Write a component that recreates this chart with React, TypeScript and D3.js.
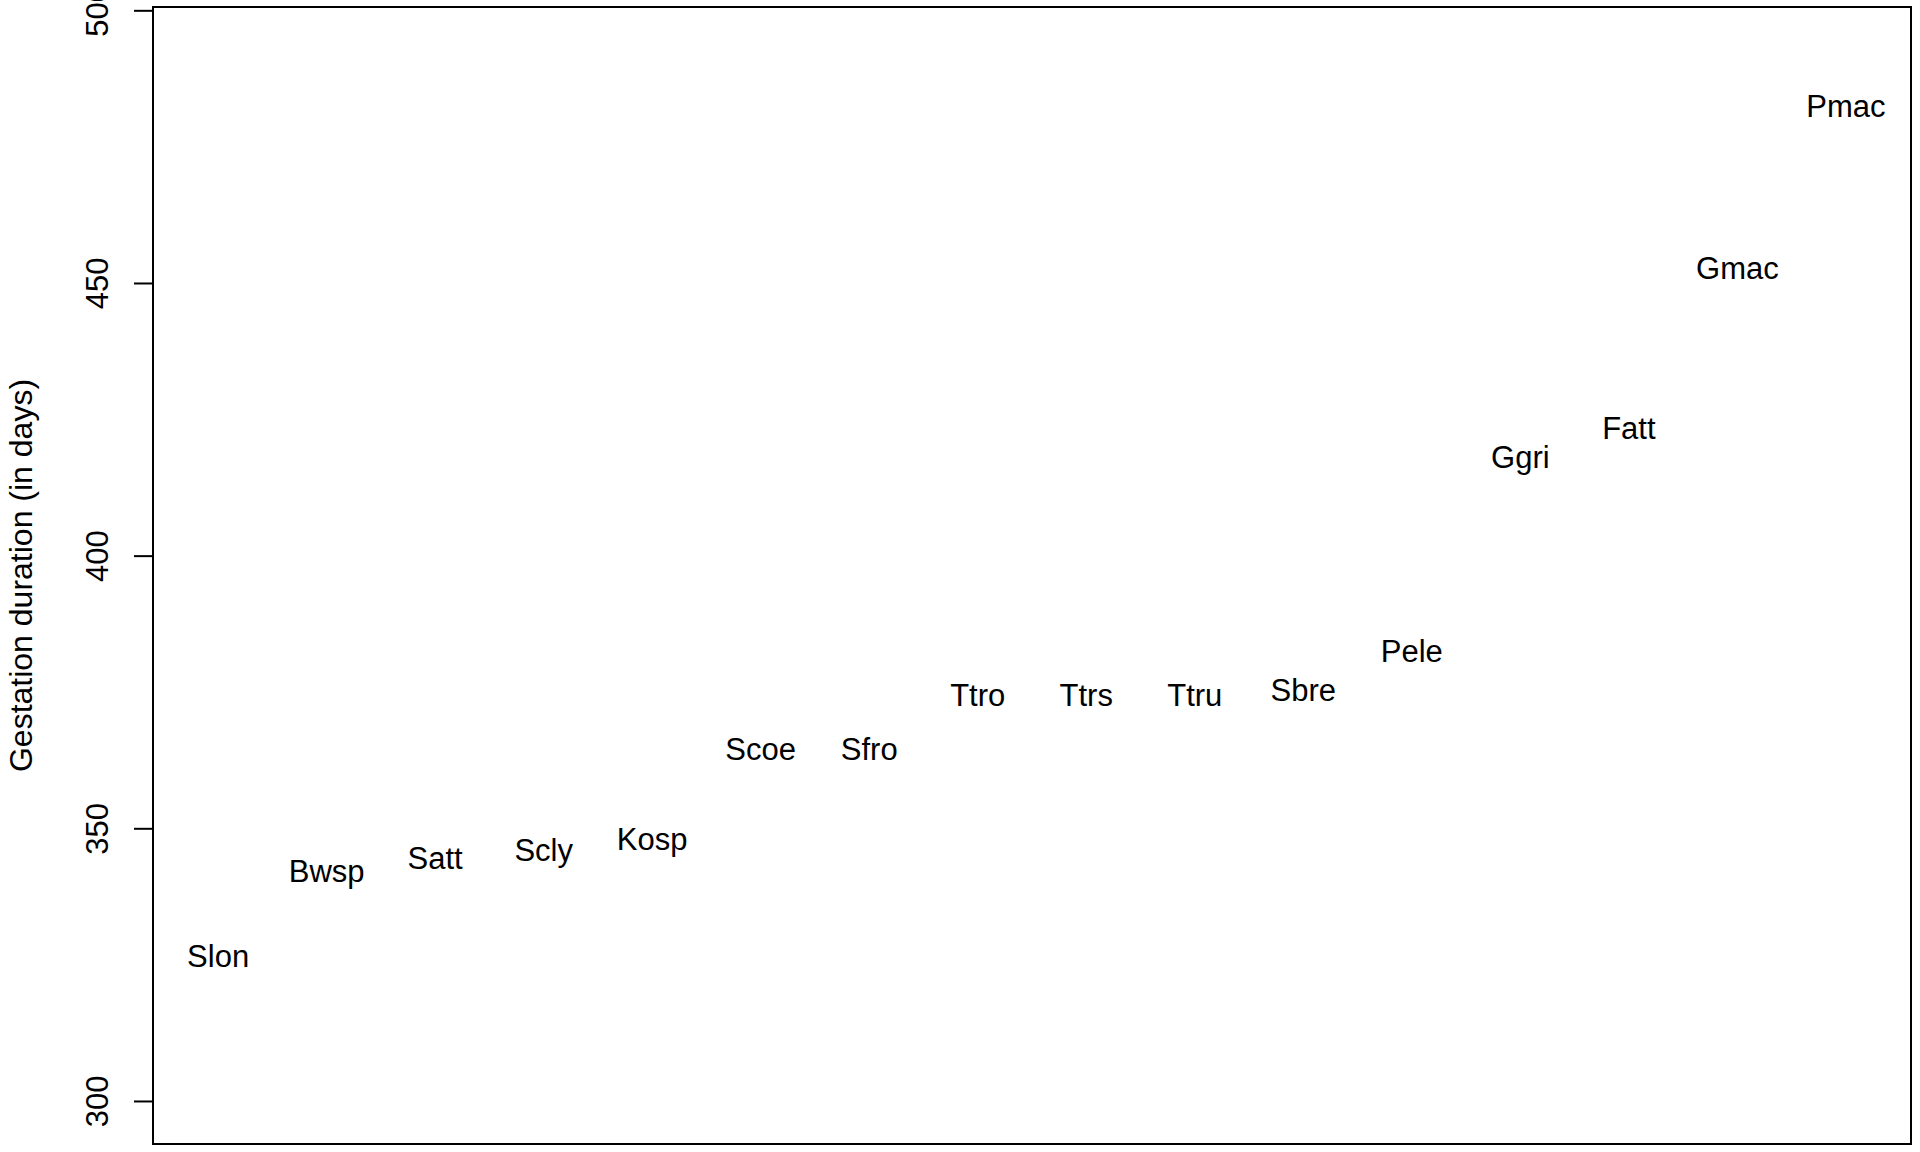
import { useRef, useEffect } from 'react';
import * as d3 from 'd3';

// species codes, in plotting order
const species = [
  'Slon', 'Bwsp', 'Satt', 'Scly', 'Kosp', 'Scoe', 'Sfro', 'Ttro',
  'Ttrs', 'Ttru', 'Sbre', 'Pele', 'Ggri', 'Fatt', 'Gmac', 'Pmac',
];

// gestation duration in days
const gestation = [
  326.7, 342.2, 344.7, 346.1, 348.1, 364.6, 364.6, 374.5,
  374.5, 374.5, 375.5, 382.6, 418.3, 423.5, 452.9, 482.5,
];

const yTicks = [300, 350, 400, 450, 500];
const yLabel = 'Gestation duration (in days)';

const W = 1920;
const H = 1152;
const FONT = '"Liberation Sans", Arial, sans-serif';

export default function App() {
  const svgRef = useRef<SVGSVGElement>(null);

  useEffect(() => {
    const svg = d3.select(svgRef.current);
    svg.selectAll('*').remove();

    const box = { left: 153, right: 1911, top: 7, bottom: 1144 };

    // R-style 4% padding around the data range
    const x = d3.scaleLinear()
      .domain([0.4, species.length + 0.6])
      .range([box.left, box.right]);
    const y = d3.scaleLinear()
      .domain([292.2, 500.7])
      .range([box.bottom, box.top]);

    // y axis ticks
    const axis = svg.append('g');
    yTicks.forEach(t => {
      axis.append('line')
        .attr('x1', box.left - 19).attr('x2', box.left)
        .attr('y1', y(t)).attr('y2', y(t))
        .attr('stroke', '#000')
        .attr('stroke-width', 2);
      axis.append('text')
        .attr('transform', `translate(108,${y(t)}) rotate(-90)`)
        .attr('text-anchor', 'middle')
        .attr('font-family', FONT)
        .attr('font-size', 31)
        .attr('fill', '#000')
        .text(t);
    });

    // axis title
    svg.append('text')
      .attr('transform', `translate(32,${(box.top + box.bottom) / 2}) rotate(-90)`)
      .attr('text-anchor', 'middle')
      .attr('font-family', FONT)
      .attr('font-size', 32)
      .attr('fill', '#000')
      .text(yLabel);

    // species labels as point markers
    svg.append('g')
      .selectAll('text')
      .data(species)
      .join('text')
      .attr('x', (_, i) => x(i + 1))
      .attr('y', (_, i) => y(gestation[i]))
      .attr('dy', '0.36em')
      .attr('text-anchor', 'middle')
      .attr('font-family', FONT)
      .attr('font-size', 31)
      .attr('fill', '#000')
      .text(d => d);

    // plot frame
    svg.append('rect')
      .attr('x', box.left).attr('y', box.top)
      .attr('width', box.right - box.left)
      .attr('height', box.bottom - box.top)
      .attr('fill', 'none')
      .attr('stroke', '#000')
      .attr('stroke-width', 2);
  }, []);

  return (
    <svg
      ref={svgRef}
      width={W}
      height={H}
      style={{ position: 'absolute', left: 0, top: 0, background: '#fff' }}
    />
  );
}
